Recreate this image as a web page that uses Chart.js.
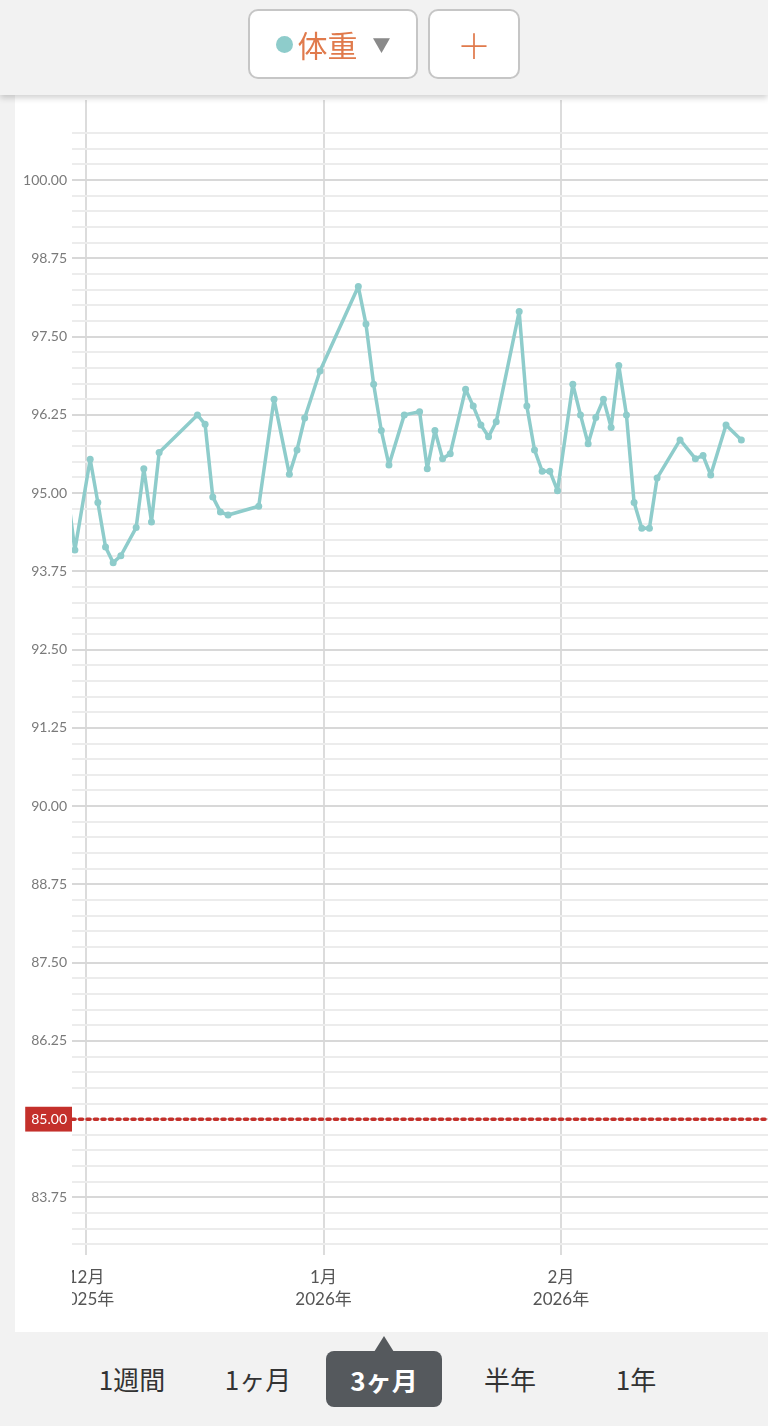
<!DOCTYPE html>
<html lang="ja">
<head>
    <meta charset="UTF-8">
    <title>体重グラフ - 3ヶ月</title>
    <script src="https://cdn.jsdelivr.net/npm/chart.js"></script>
    <style>
        body {
            margin: 0;
            width: 768px;
            height: 1426px;
            background: #f2f2f2;
            font-family: Lato, "Noto Sans CJK JP", sans-serif;
            position: relative;
            overflow: hidden;
        }
        #header {
            position: absolute;
            left: 0; top: 0;
            width: 768px; height: 95px;
            background: #f2f2f2;
            box-shadow: 0 3px 6px rgba(0, 0, 0, .18);
            z-index: 2;
        }
        .btn {
            position: absolute;
            top: 9px;
            height: 70px;
            box-sizing: border-box;
            border: 2px solid #c6c6c6;
            border-radius: 10px;
            background: #fff;
            display: flex;
            align-items: center;
            justify-content: center;
        }
        #seriesBtn { left: 248px; width: 170px; }
        #addBtn { left: 428px; width: 92px; }
        .dot {
            width: 17px; height: 17px;
            border-radius: 50%;
            background: #8ecccb;
            margin-right: 5px;
        }
        .seriesName {
            color: #e07a4c;
            font-size: 30px;
            font-family: "Noto Sans CJK JP", sans-serif;
        }
        .caret {
            color: #8a8a8a;
            font-size: 18px;
            margin-left: 15px;
        }
        .plus {
            color: #e07a4c;
            font-size: 34px;
            font-weight: 300;
            font-family: "Noto Sans CJK JP", sans-serif;
        }
        #panel {
            position: absolute;
            left: 15px; top: 95px;
            width: 753px; height: 1237px;
            background: #fff;
        }
        #tabs {
            position: absolute;
            left: 69px; top: 1351px;
            display: flex;
        }
        .tab {
            width: 126px; height: 54px;
            display: flex;
            align-items: center;
            justify-content: center;
            font-size: 26px;
            color: #333;
            font-family: "Noto Sans CJK JP", sans-serif;
            position: relative;
        }
        .tab.active span {
            background: #55595d;
            color: #fff;
            font-weight: bold;
            width: 116px; height: 56px;
            border-radius: 8px;
            display: flex;
            align-items: center;
            justify-content: center;
            position: relative;
            margin-top: 2px;
        }
        .tab.active span::before {
            content: '';
            position: absolute;
            left: 48px; top: -15px;
            border-left: 10px solid transparent;
            border-right: 10px solid transparent;
            border-bottom: 16px solid #55595d;
        }
    </style>
</head>
<body>
    <div id="header">
        <div class="btn" id="seriesBtn"><div class="dot"></div><span class="seriesName">体重</span><span class="caret">▼</span></div>
        <div class="btn" id="addBtn"><span class="plus">＋</span></div>
    </div>
    <div id="panel">
        <canvas id="weightChart" width="753" height="1237"></canvas>
    </div>
    <div id="tabs"></div>

    <script>
        // measurement dates and weights (kg)
        const measureDates = [
            '2025-11-28', '2025-11-29', '2025-12-01', '2025-12-02', '2025-12-03', '2025-12-04', '2025-12-05',
            '2025-12-07', '2025-12-08', '2025-12-09', '2025-12-10', '2025-12-15', '2025-12-16', '2025-12-17',
            '2025-12-18', '2025-12-19', '2025-12-23', '2025-12-25', '2025-12-27', '2025-12-28', '2025-12-29',
            '2025-12-31', '2026-01-05', '2026-01-06', '2026-01-07', '2026-01-08', '2026-01-09', '2026-01-11',
            '2026-01-13', '2026-01-14', '2026-01-15', '2026-01-16', '2026-01-17', '2026-01-19', '2026-01-20',
            '2026-01-21', '2026-01-22', '2026-01-23', '2026-01-26', '2026-01-27', '2026-01-28', '2026-01-29',
            '2026-01-30', '2026-01-31', '2026-02-02', '2026-02-03', '2026-02-04', '2026-02-05', '2026-02-06',
            '2026-02-07', '2026-02-08', '2026-02-09', '2026-02-10', '2026-02-11', '2026-02-12', '2026-02-13',
            '2026-02-16', '2026-02-18', '2026-02-19', '2026-02-20', '2026-02-22', '2026-02-24'
        ];
        const weightKg = [
            95.05, 94.09, 95.54, 94.85, 94.14, 93.89, 94.00,
            94.45, 95.39, 94.54, 95.65, 96.25, 96.10, 94.94,
            94.70, 94.65, 94.79, 96.50, 95.30, 95.69, 96.20,
            96.95, 98.30, 97.70, 96.74, 96.00, 95.45, 96.25,
            96.30, 95.39, 96.00, 95.55, 95.63, 96.66, 96.39,
            96.09, 95.90, 96.14, 97.90, 96.39, 95.69, 95.35,
            95.35, 95.04, 96.74, 96.25, 95.79, 96.21, 96.50,
            96.05, 97.04, 96.25, 94.85, 94.44, 94.44, 95.24,
            95.85, 95.55, 95.60, 95.29, 96.09, 95.85
        ];
        const goalWeight = 85;
        const monthTickDates = ['2025-12-01', '2026-01-01', '2026-02-01'];
        const monthTickLabels = [['12月', '2025年'], ['1月', '2026年'], ['2月', '2026年']];
        const periodTabs = ['1週間', '1ヶ月', '3ヶ月', '半年', '1年'];
        const activeTab = '3ヶ月';

        const Y_MIN = 82.83, Y_MAX = 101.28;
        const GRID_FROM = 83, GRID_TO = 100.75;
        const GRID_STEP = 0.25, LABEL_STEP = 1.25;
        const MEASURE_HOUR = 13;

        // x values are days since 2025-12-01
        const ORIGIN = Date.UTC(2025, 11, 1);
        function dayOffset(str, hours) {
            const [y, m, d] = str.split('-').map(Number);
            return (Date.UTC(y, m - 1, d) + (hours || 0) * 3600e3 - ORIGIN) / 864e5;
        }
        const viewStart = dayOffset('2025-11-29', 4);
        const viewEnd = dayOffset('2026-02-28', 0.5);

        const tabs = document.getElementById('tabs');
        periodTabs.forEach(t => {
            const el = document.createElement('div');
            el.className = 'tab' + (t === activeTab ? ' active' : '');
            el.innerHTML = '<span>' + t + '</span>';
            tabs.appendChild(el);
        });

        const isMajor = v => Math.abs(v / LABEL_STEP - Math.round(v / LABEL_STEP)) < 1e-6;
        const lineColor = '#8ecccb';
        const goalColor = '#c4302b';

        // hide the part of the first month label that sits left of the plot
        const clipLeftLabels = {
            id: 'clipLeftLabels',
            afterDraw(chart) {
                const { ctx, chartArea } = chart;
                ctx.save();
                ctx.fillStyle = '#fff';
                ctx.fillRect(0, chartArea.bottom + 1, chartArea.left, chart.height - chartArea.bottom);
                ctx.restore();
            }
        };

        new Chart(document.getElementById('weightChart'), {
            type: 'line',
            data: {
                datasets: [{
                    label: '体重',
                    data: measureDates.map((d, i) => ({ x: dayOffset(d, MEASURE_HOUR), y: weightKg[i] })),
                    borderColor: lineColor,
                    backgroundColor: lineColor,
                    borderWidth: 3.5,
                    borderJoinStyle: 'round',
                    borderCapStyle: 'round',
                    pointRadius: 3.5,
                    pointBorderWidth: 0,
                    tension: 0
                }, {
                    label: '目標',
                    data: [{ x: viewStart, y: goalWeight }, { x: viewEnd, y: goalWeight }],
                    borderColor: goalColor,
                    borderWidth: 3.5,
                    borderDash: [3, 4.5],
                    borderCapStyle: 'round',
                    pointRadius: 0
                }]
            },
            options: {
                responsive: false,
                animation: false,
                layout: { autoPadding: false, padding: { top: 5, right: 0, bottom: 0, left: 0 } },
                plugins: { legend: { display: false }, tooltip: { enabled: false } },
                scales: {
                    x: {
                        type: 'linear',
                        min: viewStart,
                        max: viewEnd,
                        afterBuildTicks: s => { s.ticks = monthTickDates.map(d => ({ value: dayOffset(d) })); },
                        afterFit: s => { s.height = 77; s.paddingLeft = 0; s.paddingRight = 0; },
                        border: { display: false },
                        grid: { color: '#dcdcdc', lineWidth: 2, drawTicks: false },
                        ticks: {
                            autoSkip: false,
                            maxRotation: 0,
                            padding: 11,
                            color: '#555',
                            font: { size: 17, family: 'Lato, "Noto Sans CJK JP", sans-serif', lineHeight: 1.3 },
                            callback: (v, i) => monthTickLabels[i]
                        }
                    },
                    y: {
                        min: Y_MIN,
                        max: Y_MAX,
                        afterBuildTicks: s => {
                            const t = [];
                            for (let v = GRID_FROM; v <= GRID_TO + 1e-6; v += GRID_STEP) t.push({ value: +v.toFixed(2) });
                            s.ticks = t;
                        },
                        afterFit: s => { s.width = 57; s.paddingTop = 0; s.paddingBottom = 0; },
                        border: { display: false },
                        grid: {
                            drawTicks: false,
                            lineWidth: 2,
                            color: c => isMajor(c.tick.value) ? '#d8d8d8' : '#ececec'
                        },
                        ticks: {
                            padding: 5,
                            autoSkip: false,
                            color: c => c.tick.value === goalWeight ? '#fff' : '#7a7a7a',
                            font: { size: 14, family: 'Lato, sans-serif' },
                            showLabelBackdrop: c => c.tick.value === goalWeight,
                            backdropColor: goalColor,
                            backdropPadding: { left: 6, right: 6, top: 4, bottom: 4 },
                            callback: v => isMajor(v) ? v.toFixed(2) : ''
                        }
                    }
                }
            },
            plugins: [clipLeftLabels]
        });
    </script>
</body>
</html>
